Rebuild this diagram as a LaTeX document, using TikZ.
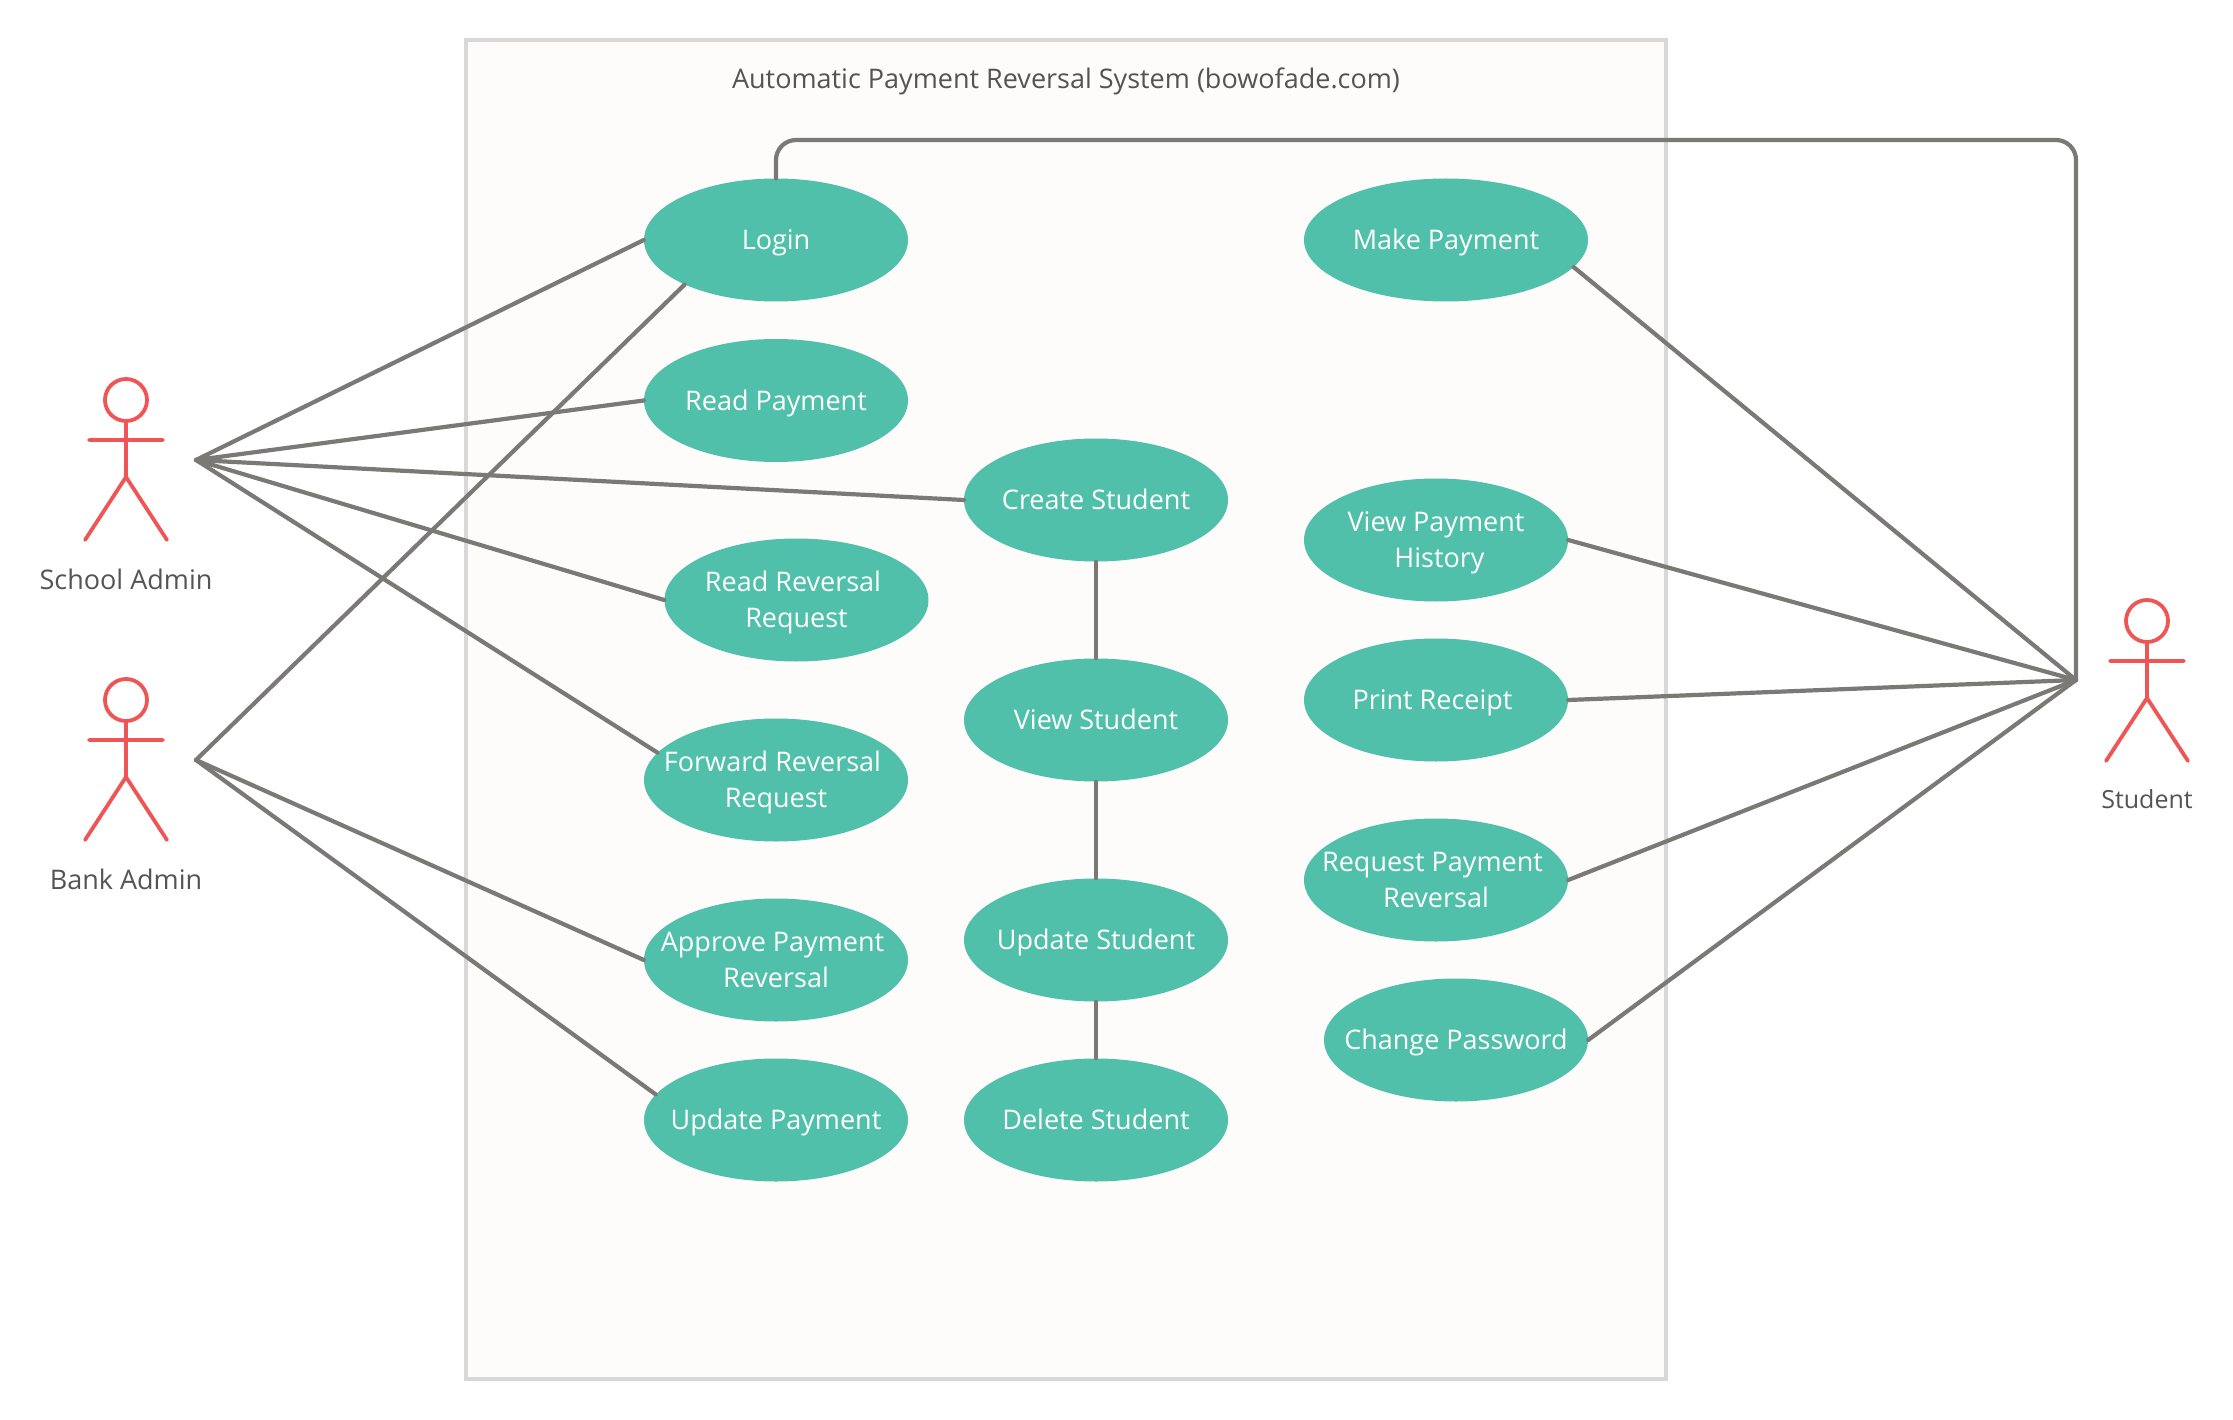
\documentclass[tikz,border=0pt]{standalone}
\usepackage{fontspec}
\setmainfont{Open Sans}
\usetikzlibrary{shapes.geometric}
\definecolor{Teal}{RGB}{81, 192, 171}
\definecolor{Coral}{RGB}{240, 85, 85}
\definecolor{Wire}{RGB}{122, 121, 118}
\definecolor{Frame}{RGB}{216, 216, 216}
\definecolor{Paper}{RGB}{253, 252, 250}
\definecolor{Ink}{RGB}{84, 84, 84}
\newcommand{\uctext}[1]{\makebox[0pt]{\raisebox{-9pt}[0pt][0pt]{\begin{tabular}{@{}c@{}}#1\end{tabular}}}}
\tikzset{
    usecase/.style={ellipse, fill=Teal, text=white, inner sep=0, minimum width=264pt, minimum height=123pt, font=\fontsize{27}{36}\selectfont},
    link/.style={draw=Wire, line width=4.2pt, line cap=round, line join=round},
    caption/.style={text=Ink, inner sep=0, font=\fontsize{27}{36}\selectfont},
    actor/.pic={
        \draw[draw=Coral, line width=3.8pt, line cap=round, line join=round]
            (0,0) circle (21pt)
            (0,21) -- (0,77) -- (-41,140)
            (0,77) -- (41,140)
            (-37,40) -- (37,40);
    }
}
\begin{document}
\begin{tikzpicture}[x=1pt, y=-1pt]
    \useasboundingbox (0,0) rectangle (2233,1420);

    % System frame
    \node[draw=Frame, fill=Paper, line width=4pt, inner sep=0, minimum width=1200pt, minimum height=1339pt] (system) at (1066,709.5) {};
    \node[caption] (title) at (1066,81) {Automatic Payment Reversal System (bowofade.com)};

    % Actors
    \pic at (126,400) {actor};
    \node[caption] (schoolname) at (126,579) {School Admin};
    \pic at (126,700) {actor};
    \node[caption] (bankname) at (126,879) {Bank Admin};
    \pic at (2147,621) {actor};
    \node[caption, font=\fontsize{25}{36}\selectfont] (studentname) at (2147,799) {Student};

    % Wire meeting points
    \coordinate (school) at (196,460);
    \coordinate (bank) at (196,760);
    \coordinate (student) at (2076,680);
    \coordinate (bend) at (2076,140);

    % Left column
    \node[usecase] (login) at (776,240) {\uctext{Login}};
    \node[usecase] (readpay) at (776,400.5) {\uctext{Read Payment}};
    \node[usecase] (readrev) at (796.5,600) {\uctext{Read Reversal\hspace*{7pt}\\Request}};
    \node[usecase] (forward) at (776,780) {\uctext{Forward Reversal\hspace*{7pt}\\Request}};
    \node[usecase] (approve) at (776,960) {\uctext{Approve Payment\hspace*{7pt}\\Reversal}};
    \node[usecase] (updatepay) at (776,1120) {\uctext{Update Payment}};

    % Middle column
    \node[usecase] (create) at (1096,500) {\uctext{Create Student}};
    \node[usecase] (view) at (1096,720) {\uctext{View Student}};
    \node[usecase] (updatestu) at (1096,940) {\uctext{Update Student}};
    \node[usecase] (delete) at (1096,1120) {\uctext{Delete Student}};

    % Right column
    \node[usecase, minimum width=284pt] (make) at (1446,240) {\uctext{Make Payment}};
    \node[usecase] (history) at (1436,540) {\uctext{View Payment\\\hspace*{7pt}History}};
    \node[usecase] (receipt) at (1436,700) {\uctext{Print Receipt\hspace*{7pt}}};
    \node[usecase] (request) at (1436,880) {\uctext{Request Payment\hspace*{7pt}\\Reversal}};
    \node[usecase] (password) at (1456,1040) {\uctext{Change Password}};

    % School admin links
    \draw[link] (school) -- (login.west);
    \draw[link] (school) -- (readpay.west);
    \draw[link] (school) -- (create.west);
    \draw[link] (school) -- (readrev.west);
    \draw[link] (school) -- (forward.167);

    % Bank admin links
    \draw[link] (bank) -- (login.206);
    \draw[link] (bank) -- (approve.west);
    \draw[link] (bank) -- (updatepay.168);

    % Student links
    \draw[link, rounded corners=20pt] (login.north) |- (bend) -- (student);
    \draw[link] (student) -- (make.-12);
    \draw[link] (student) -- (history.east);
    \draw[link] (student) -- (receipt.east);
    \draw[link] (student) -- (request.east);
    \draw[link] (student) -- (password.east);

    % Student chain
    \draw[link] (create) -- (view);
    \draw[link] (view) -- (updatestu);
    \draw[link] (updatestu) -- (delete);
\end{tikzpicture}
\end{document}
